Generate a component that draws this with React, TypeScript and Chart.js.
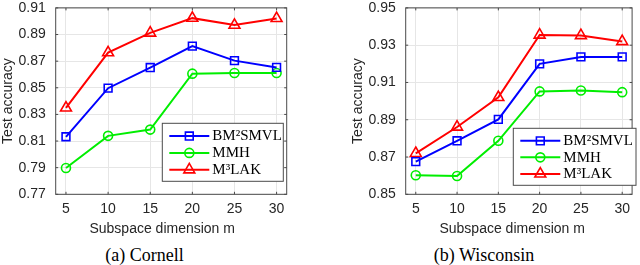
import React, { useEffect, useRef } from "react";
import { Chart, registerables } from "chart.js";
Chart.register(...registerables);

const dims = [5, 10, 15, 20, 25, 30];
const xTicks = [5, 10, 15, 20, 25, 30];
const seriesNames = ["BM²SMVL", "MMH", "M³LAK"];
const seriesColors = ["#0000ff", "#00ee00", "#ff0000"];
const seriesMarkers = ["rect", "circle", "triangle"];

const cornellBM = [0.8132, 0.8497, 0.8652, 0.8813, 0.8704, 0.8653];
const cornellMMH = [0.7897, 0.8139, 0.8186, 0.8606, 0.8611, 0.8611];
const cornellM3 = [0.8349, 0.8764, 0.8912, 0.9023, 0.8971, 0.9021];
const cornellYTicks = [0.77, 0.79, 0.81, 0.83, 0.85, 0.87, 0.89, 0.91];

const wiscBM = [0.8675, 0.8787, 0.8902, 0.9200, 0.9237, 0.9237];
const wiscMMH = [0.8602, 0.8598, 0.8787, 0.9052, 0.9057, 0.9048];
const wiscM3 = [0.8720, 0.8861, 0.9020, 0.9355, 0.9352, 0.9320];
const wiscYTicks = [0.85, 0.87, 0.89, 0.91, 0.93, 0.95];

const xTitle = "Subspace dimension m";
const yTitle = "Test accuracy";

const axisColor = "#262626";
const sansFont = "'Liberation Sans', Arial, sans-serif";
const serifFont = "'Liberation Serif', 'Times New Roman', serif";

function markerRadius(style: string) {
  if (style === "rect") return 5.5;
  if (style === "triangle") return 6.3;
  return 4.5;
}

type LegendBox = { x: number; y: number; w: number; h: number };

function drawMarker(ctx: CanvasRenderingContext2D, style: string, x: number, y: number, r: number) {
  ctx.beginPath();
  if (style === "rect") {
    const h = r * Math.SQRT1_2;
    ctx.rect(x - h, y - h, 2 * h, 2 * h);
  } else if (style === "circle") {
    ctx.arc(x, y, r, 0, Math.PI * 2);
  } else {
    for (let k = 0; k < 3; k++) {
      const ang = -Math.PI / 2 + (k * 2 * Math.PI) / 3;
      const px = x + Math.cos(ang) * r;
      const py = y + Math.sin(ang) * r;
      if (k === 0) ctx.moveTo(px, py);
      else ctx.lineTo(px, py);
    }
    ctx.closePath();
  }
  ctx.stroke();
}

function Panel(props: {
  width: number;
  rightPad: number;
  series: number[][];
  yTicks: number[];
  legend: LegendBox;
}) {
  const ref = useRef<HTMLCanvasElement | null>(null);
  useEffect(() => {
    const canvas = ref.current!;
    const { series, yTicks, legend } = props;
    const overlay = {
      id: "overlay",
      afterDraw(chart: any) {
        const ctx = chart.ctx as CanvasRenderingContext2D;
        const { left, right, top, bottom } = chart.chartArea;
        const xs = chart.scales.x;
        const ys = chart.scales.y;
        ctx.save();
        ctx.strokeStyle = "#4a4a4a";
        ctx.lineWidth = 1;
        ctx.strokeRect(left, top, right - left, bottom - top);
        ctx.beginPath();
        xTicks.forEach((v) => {
          const px = xs.getPixelForValue(v);
          ctx.moveTo(px, bottom);
          ctx.lineTo(px, bottom - 2.5);
          ctx.moveTo(px, top);
          ctx.lineTo(px, top + 2.5);
        });
        yTicks.forEach((v) => {
          const py = ys.getPixelForValue(v);
          ctx.moveTo(left, py);
          ctx.lineTo(left + 2.5, py);
          ctx.moveTo(right, py);
          ctx.lineTo(right - 2.5, py);
        });
        ctx.stroke();
        ctx.fillStyle = axisColor;
        ctx.font = `14px ${sansFont}`;
        ctx.textAlign = "center";
        ctx.textBaseline = "middle";
        ctx.fillText(xTitle, left + 106.5, 229);
        ctx.fillStyle = "#ffffff";
        ctx.fillRect(legend.x, legend.y, legend.w, legend.h);
        ctx.strokeStyle = "#4a4a4a";
        ctx.strokeRect(legend.x, legend.y, legend.w, legend.h);
        const rows = [0.22, 0.51, 0.8];
        seriesNames.forEach((name, i) => {
          const ry = legend.y + legend.h * rows[i];
          ctx.strokeStyle = seriesColors[i];
          ctx.lineWidth = 2;
          ctx.beginPath();
          ctx.moveTo(legend.x + 7, ry);
          ctx.lineTo(legend.x + 47, ry);
          ctx.stroke();
          ctx.lineWidth = 1.6;
          drawMarker(ctx, seriesMarkers[i], legend.x + 27, ry, markerRadius(seriesMarkers[i]));
          ctx.fillStyle = "#000000";
          ctx.font = `15px ${serifFont}`;
          ctx.textAlign = "left";
          ctx.textBaseline = "middle";
          ctx.fillText(name, legend.x + 50, ry + 0.5);
        });
        ctx.restore();
      },
    };

    const chart = new Chart(canvas, {
      type: "line",
      data: {
        datasets: series.map((vals, i) => ({
          label: seriesNames[i],
          data: dims.map((d, j) => ({ x: d, y: vals[j] })),
          borderColor: seriesColors[i],
          backgroundColor: "rgba(0,0,0,0)",
          borderWidth: 2,
          pointStyle: seriesMarkers[i] as any,
          pointRadius: markerRadius(seriesMarkers[i]),
          pointBorderWidth: 1.6,
          pointBorderColor: seriesColors[i],
          pointBackgroundColor: "rgba(0,0,0,0)",
          tension: 0,
        })),
      },
      options: {
        animation: false,
        responsive: false,
        devicePixelRatio: 1,
        layout: { padding: { left: 0, right: props.rightPad, top: 5.3, bottom: 0 } },
        plugins: { legend: { display: false }, tooltip: { enabled: false } },
        scales: {
          x: {
            type: "linear",
            min: 3.78,
            max: 31.2,
            afterBuildTicks: (s: any) => {
              s.ticks = xTicks.map((v) => ({ value: v }));
            },
            afterFit: (s: any) => {
              s.height = 45.7;
              s.paddingLeft = 0;
              s.paddingRight = 0;
            },
            ticks: {
              autoSkip: false,
              maxRotation: 0,
              padding: 6.5,
              color: axisColor,
              font: { family: sansFont, size: 14 },
              callback: (v: any) => String(v),
            },
            grid: { color: "#e6e6e6", drawTicks: false, lineWidth: 1 },
            border: { display: false },
          },
          y: {
            type: "linear",
            min: yTicks[0],
            max: yTicks[yTicks.length - 1],
            afterBuildTicks: (s: any) => {
              s.ticks = yTicks.map((v) => ({ value: v }));
            },
            afterFit: (s: any) => {
              s.width = 55.7;
              s.paddingTop = 0;
              s.paddingBottom = 0;
            },
            ticks: {
              padding: 10,
              color: axisColor,
              font: { family: sansFont, size: 14 },
              callback: (v: any) => Number(v).toFixed(2),
            },
            grid: { color: "#e6e6e6", drawTicks: false, lineWidth: 1 },
            border: { display: false },
            title: {
              display: true,
              text: yTitle,
              color: axisColor,
              font: { family: sansFont, size: 14 },
              padding: { top: 0, bottom: 0 },
            },
          },
        },
      },
      plugins: [overlay],
    } as any);
    return () => chart.destroy();
  }, []);
  return <canvas ref={ref} width={props.width} height={240} style={{ display: "block", width: props.width, height: 240 }} />;
}

export default function App() {
  useEffect(() => {
    document.body.style.margin = "0";
  }, []);
  const captionStyle = (center: number): React.CSSProperties => ({
    position: "absolute",
    left: center - 100,
    width: 200,
    top: 244,
    lineHeight: "22px",
    textAlign: "center",
    fontFamily: serifFont,
    fontSize: 18,
    color: "#000",
    whiteSpace: "pre",
  });
  return (
    <div style={{ position: "absolute", left: 0, top: 0, width: 640, height: 265, background: "#fff", overflow: "hidden" }}>
      <div style={{ position: "absolute", left: 0, top: 0 }}>
        <Panel
          width={350}
          rightPad={63.3}
          series={[cornellBM, cornellMMH, cornellM3]}
          yTicks={cornellYTicks}
          legend={{ x: 162.3, y: 123.3, w: 121, h: 58 }}
        />
      </div>
      <div style={{ position: "absolute", left: 350, top: 0 }}>
        <Panel
          width={290}
          rightPad={3.3}
          series={[wiscBM, wiscMMH, wiscM3]}
          yTicks={wiscYTicks}
          legend={{ x: 163.3, y: 128.3, w: 122.7, h: 57 }}
        />
      </div>
      <div style={captionStyle(144.5)}>(a) Cornell</div>
      <div style={captionStyle(484)}>(b) Wisconsin</div>
    </div>
  );
}
